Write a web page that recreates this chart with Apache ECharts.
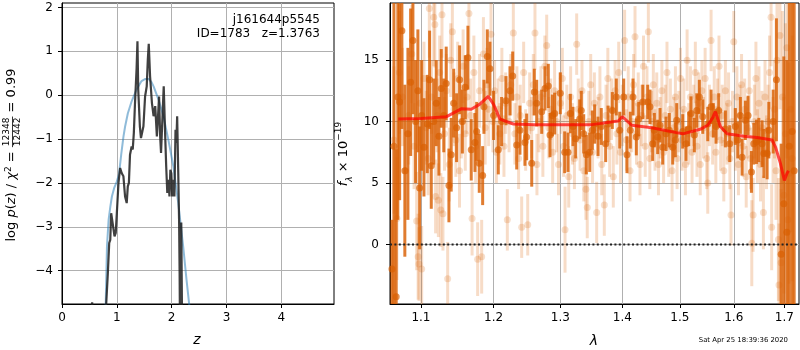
<!DOCTYPE html>
<html><head><meta charset="utf-8">
<script src="https://cdn.jsdelivr.net/npm/echarts@6/dist/echarts.min.js"></script>
<style>html,body{margin:0;padding:0;background:#fff}#c{width:800px;height:350px}</style>
</head><body><div id="c"></div>
<script>
// ---------------- data ----------------
const zTicks = [0, 1, 2, 3, 4];
const logpTicks = [-4, -3, -2, -1, 0, 1, 2];
const lamTicks = [1.1, 1.2, 1.3, 1.4, 1.5, 1.6, 1.7];
const fluxTicks = [0, 5, 10, 15];
const zRange = [0, 4.96];
const logpRange = [-4.76, 2.1];
const lamRange = [1.06, 1.73];
const fluxRange = [-4.85, 19.65];

const titleLines = ['j161644p5545', 'ID=1783   z=1.3763'];
const stamp = 'Sat Apr 25 18:39:36 2020';

// log p(z): [z, log p]
const pzPts = [[0.45,-6],[0.55,-4.72],[0.6,-6],[0.78,-6],[0.80,-4.9],[0.836,-4.06],[0.861,-3.37],[0.88,-3.3],[0.897,-2.69],
[0.92,-2.73],[0.958,-3.22],[0.98,-3.14],[1.0,-2.69],[1.03,-2.0],[1.06,-1.66],[1.09,-1.78],[1.12,-1.85],[1.15,-2.31],
[1.18,-2.46],[1.2,-2.08],[1.22,-2.0],[1.24,-1.36],[1.27,-1.17],[1.29,-1.24],[1.31,-0.86],[1.33,-0.22],[1.36,0.6],
[1.376,1.23],[1.39,0.13],[1.42,-0.71],[1.44,-0.98],[1.47,-0.94],[1.485,-0.71],[1.515,-0.03],[1.545,0.2],[1.565,0.81],
[1.582,1.17],[1.606,0.43],[1.64,-0.18],[1.67,-0.48],[1.70,-0.25],[1.73,-0.94],[1.745,-0.63],[1.77,-0.03],[1.79,-0.94],
[1.806,-1.32],[1.83,-0.56],[1.855,0.2],[1.88,-0.86],[1.9,-1.62],[1.92,-2.23],[1.94,-1.93],[1.96,-2.31],[1.976,-1.7],
[1.994,-1.78],[2.01,-2.31],[2.03,-1.93],[2.05,-2.31],[2.07,-0.79],[2.085,-1.09],[2.10,-0.48],[2.12,-1.78],[2.135,-2.84],
[2.145,-4.06],[2.155,-6],[2.17,-6],[2.175,-2.9],[2.185,-2.9],[2.195,-6],[2.25,-6]];

// smooth fit: [z, log p]
const pzFitPts = [[0.79,-5.2],[0.80,-4.6],[0.82,-3.45],[0.85,-2.84],[0.88,-2.55],[0.91,-2.31],[0.95,-2.12],[1.0,-1.97],
[1.04,-1.8],[1.08,-1.35],[1.12,-0.95],[1.15,-0.72],[1.2,-0.42],[1.27,-0.14],[1.36,0.13],[1.45,0.32],[1.52,0.37],
[1.58,0.37],[1.63,0.3],[1.67,0.2],[1.76,-0.1],[1.85,-0.48],[1.94,-1.02],[2.03,-1.62],[2.12,-2.46],[2.21,-3.45],
[2.27,-4.2],[2.33,-4.89],[2.36,-5.2]];

// faint spectrum: [lambda, flux, err]
const lightPts = [[1.0650,8.5,6],[1.0688,2.1,5],[1.0720,14.0,5],[1.0760,12.0,4],[1.0800,6.0,4],[1.0840,10.5,4],[1.0880,15.5,4],
[1.0910,8.0,3.5],[1.0944,1.9,4],[1.0963,-1.0,3.5],[1.0975,-1.6,3],[1.0990,11.5,3.5],[1.1010,-2.0,3.5],[1.1040,13.5,3],
[1.1070,9.5,3],[1.1095,7.0,3],[1.1111,19.2,4],[1.1140,12.0,3],[1.1170,18.5,4],[1.1185,17.9,3.5],[1.1195,3.9,3],
[1.1215,10.5,3],[1.1232,3.6,3],[1.1250,14.0,3],[1.1265,2.8,3],[1.1281,18.7,3.5],[1.1294,2.5,3],[1.1315,9.0,3],
[1.1340,12.5,3],[1.1358,-2.8,3],[1.1380,6.5,3],[1.1400,15.0,3],[1.1422,17.3,3],[1.1445,11.0,3],[1.1470,8.5,3],
[1.1495,13.5,3],[1.1520,6.0,3],[1.1545,10.0,3],[1.1570,14.5,3],[1.1600,9.0,3],[1.1625,12.0,3],[1.1651,18.8,3.5],
[1.1675,10.5,3],[1.1695,2.1,3],[1.1720,14.0,3],[1.1745,8.0,3],[1.1773,-1.2,3],[1.1800,12.5,3],[1.1830,-1.0,3],
[1.1855,15.5,3],[1.1880,9.5,3],[1.1905,13.0,3],[1.1930,11.0,3],[1.1963,17.1,3],[1.1990,10.0,2.5],[1.2015,12.5,2.5],
[1.2040,7.5,2.5],[1.2065,11.0,2.5],[1.2090,9.0,2.5],[1.2120,13.5,2.5],[1.2150,8.0,2.5],[1.2175,11.5,2.5],[1.2199,2.0,2.5],
[1.2225,10.0,2.5],[1.2250,13.0,2.5],[1.2287,17.2,3],[1.2310,9.0,2.5],[1.2340,12.0,2.5],[1.2365,7.0,2.5],[1.2390,10.5,2.5],
[1.2411,1.4,2.5],[1.2440,14.0,2.5],[1.2470,8.5,2.5],[1.2501,1.6,2.5],[1.2530,11.5,2.5],[1.2560,9.5,2.5],[1.2585,13.0,2.5],
[1.2610,17.2,3],[1.2640,6.5,2.5],[1.2670,10.0,2.5],[1.2700,12.0,2.5],[1.2730,8.0,2.5],[1.2760,14.5,2.5],[1.2788,16.2,2.5],
[1.2820,9.5,2.5],[1.2850,11.0,2.5],[1.2880,7.5,2.5],[1.2910,12.5,2.5],[1.2940,10.0,2.5],[1.2970,6.5,2.5],[1.3000,11.5,2.5],
[1.3030,13.5,2.5],[1.3050,8.0,2.5],[1.3072,1.2,3.5],[1.3100,10.5,2.5],[1.3130,5.5,2.5],[1.3160,12.0,2.5],[1.3190,9.0,2.5],
[1.3220,7.0,2.5],[1.3256,16.3,2.5],[1.3280,11.0,2.5],[1.3310,8.5,2.5],[1.3340,12.5,2.5],[1.3370,6.0,2.5],[1.3403,4.5,2.5],
[1.3425,3.0,2.5],[1.3450,10.0,2.5],[1.3480,13.0,2.5],[1.3510,7.5,2.5],[1.3540,11.5,2.5],[1.3577,2.6,2.5],[1.3600,9.5,2.5],
[1.3630,12.0,2.5],[1.3660,6.5,2.5],[1.3702,3.2,2.5],[1.3730,10.5,2.5],[1.3760,13.5,2.5],[1.3790,8.0,2.5],[1.3820,11.0,2.5],
[1.3850,5.5,2.5],[1.3880,12.5,2.5],[1.3910,9.0,2.5],[1.3940,14.0,2.5],[1.3970,7.5,2.5],[1.4000,10.5,2.5],[1.4039,16.6,2.5],
[1.4070,8.5,2.5],[1.4100,12.0,2.5],[1.4130,6.0,2.5],[1.4160,10.0,2.5],[1.4190,13.0,2.5],[1.4215,16.9,2.5],[1.4240,9.0,2.5],
[1.4270,11.5,2.5],[1.4300,6.5,2.5],[1.4330,10.5,2.5],[1.4360,14.5,2.5],[1.4390,8.0,2.5],[1.4420,12.0,2.5],[1.4444,17.3,2.5],
[1.4470,7.0,2.5],[1.4500,10.0,2.5],[1.4530,13.0,2.5],[1.4560,8.5,2.5],[1.4590,11.5,2.5],[1.4620,6.5,2.5],[1.4650,9.5,2.5],
[1.4680,12.5,2.5],[1.4710,7.5,2.5],[1.4740,10.5,2.5],[1.4770,14.0,2.5],[1.4800,8.0,2.5],[1.4830,11.0,2.5],[1.4860,6.0,2.5],
[1.4890,9.5,2.5],[1.4920,12.0,2.5],[1.4950,7.0,2.5],[1.4980,10.0,2.5],[1.5010,13.5,2.5],[1.5040,8.5,2.5],[1.5070,11.0,2.5],
[1.5100,6.5,2.5],[1.5130,15.0,2.5],[1.5160,9.0,2.5],[1.5190,12.0,2.5],[1.5220,7.5,2.5],[1.5250,10.5,2.5],[1.5280,14.0,2.5],
[1.5310,8.0,2.5],[1.5340,11.5,2.5],[1.5370,6.5,2.5],[1.5400,12.5,2.5],[1.5430,9.5,2.5],[1.5460,13.5,2.5],[1.5490,7.0,2.5],
[1.5509,5.0,2.5],[1.5540,10.5,2.5],[1.5571,16.6,2.5],[1.5600,9.0,2.5],[1.5630,12.0,2.5],[1.5660,7.5,2.5],[1.5690,11.0,2.5],
[1.5720,14.5,2.5],[1.5750,8.5,2.5],[1.5780,10.5,2.5],[1.5810,6.0,2.5],[1.5840,12.5,2.5],[1.5870,9.0,2.5],[1.5900,11.5,2.5],
[1.5925,7.0,2.5],[1.5947,2.4,2.5],[1.5975,10.0,2.5],[1.6000,16.5,2.5],[1.6030,8.5,2.5],[1.6060,12.0,2.5],[1.6090,6.5,2.5],
[1.6120,10.5,2.5],[1.6150,13.0,2.5],[1.6180,8.0,2.5],[1.6210,11.0,2.5],[1.6240,5.5,2.5],[1.6270,9.5,2.5],[1.6300,12.5,2.5],
[1.6325,7.0,2.5],[1.6349,0.1,3.5],[1.6375,2.4,3],[1.6400,10.0,3],[1.6430,13.5,3],[1.6460,8.0,3],[1.6490,11.5,3],
[1.6520,6.5,3],[1.6550,9.5,3],[1.6578,2.6,3],[1.6610,12.0,3],[1.6640,7.5,3],[1.6670,10.0,3],[1.6700,14.0,3],
[1.6731,18.5,4],[1.6743,1.4,3.5],[1.6770,8.5,3.5],[1.6800,11.0,4],[1.6830,6.0,4],[1.6850,15.0,5],[1.6878,0.4,5],
[1.6890,-3.3,5],[1.6910,17.0,6],[1.6934,-1.5,6],[1.6960,12.0,7],[1.6990,4.0,8],[1.7020,9.0,9],[1.7050,16.0,9],
[1.7070,2.0,9],[1.7096,5.8,9],[1.7130,11.0,10],[1.7160,7.0,10]];

// strong spectrum: [lambda, flux, err]
const darkPts = [[1.0625,-2.0,4.0],[1.0650,8.0,14],[1.0679,-4.25,12],[1.0700,12.0,10],[1.0723,11.6,8],[1.0752,17.4,8],
[1.0790,6.0,7],[1.0830,9.0,7],[1.0865,13.2,6],[1.0895,16.6,6],[1.0930,10.0,5],[1.0960,12.5,5],[1.0983,4.6,5],
[1.1010,10.5,4.5],[1.1040,7.9,4],[1.1084,9.8,4],[1.1115,13.4,4],[1.1137,6.4,3.5],[1.1170,10.0,3.5],[1.1204,11.5,3.5],
[1.1240,8.8,3.2],[1.1271,12.7,3.2],[1.1305,10.5,3],[1.1338,13.1,3],[1.1375,4.8,3],[1.1406,7.3,3],[1.1440,11.5,2.8],
[1.1480,9.5,2.8],[1.1522,13.4,2.8],[1.1560,10.0,2.6],[1.1600,12.8,2.6],[1.1637,15.2,2.6],[1.1683,7.7,2.5],
[1.1735,8.3,2.4],[1.1760,9.2,2.4],[1.1796,6.6,2.4],[1.1844,5.6,2.4],[1.1862,11.2,2.2],[1.1910,15.3,2.2],[1.1948,14.3,2.2],
[1.2000,10.5,2.0],[1.2068,7.7,2.0],[1.2116,10.0,2.0],[1.2180,11.7,2.0],[1.2238,12.5,2.0],[1.2278,13.7,2.0],[1.2337,8.1,2.0],
[1.2385,9.3,2.0],[1.2459,8.3,1.9],[1.2485,8.75,1.9],[1.2561,6.6,1.9],[1.2600,12.4,1.9],[1.2636,11.5,1.9],[1.2712,10.8,1.8],
[1.2762,12.7,1.8],[1.2813,12.9,1.8],[1.2839,8.9,1.8],[1.2875,10.5,1.7],[1.2911,10.65,1.7],[1.2998,12.3,1.7],[1.3067,7.5,1.7],
[1.3119,7.5,1.6],[1.3155,10.65,1.6],[1.3197,9.6,1.6],[1.3240,8.6,1.6],[1.3304,10.2,1.6],[1.3329,10.9,1.6],[1.3368,9.0,1.6],
[1.3410,7.3,1.6],[1.3464,7.5,1.6],[1.3506,9.3,1.6],[1.3545,9.8,1.6],[1.3599,8.8,1.6],[1.3652,9.6,1.5],[1.3724,8.2,1.5],
[1.3763,9.8,1.5],[1.3834,10.9,1.5],[1.3900,12.0,1.5],[1.3957,9.3,1.5],[1.4024,12.0,1.5],[1.4079,7.3,1.5],[1.4135,9.3,1.5],
[1.4181,12.0,1.5],[1.4237,8.75,1.5],[1.4279,10.2,1.4],[1.4348,11.6,1.4],[1.4433,11.6,1.4],[1.4473,11.2,1.4],[1.4519,8.2,1.4],
[1.4548,9.3,1.4],[1.4606,8.75,1.4],[1.4647,9.7,1.4],[1.4694,7.9,1.4],[1.4753,9.0,1.4],[1.4811,9.3,1.4],[1.4872,7.9,1.4],
[1.4918,8.5,1.4],[1.4943,10.1,1.4],[1.5051,9.2,1.4],[1.5110,8.2,1.4],[1.5160,9.4,1.4],[1.5201,10.65,1.4],[1.5262,8.9,1.4],
[1.5306,10.9,1.4],[1.5354,12.0,1.4],[1.5416,10.4,1.4],[1.5509,9.8,1.4],[1.5571,11.2,1.4],[1.5613,10.1,1.4],[1.5664,9.6,1.4],
[1.5714,10.9,1.4],[1.5840,9.4,1.5],[1.5923,8.2,1.5],[1.6030,9.6,1.5],[1.6077,8.5,1.5],[1.6127,10.5,1.5],[1.6160,7.1,1.5],
[1.6224,10.1,1.6],[1.6276,10.5,1.6],[1.6342,5.9,1.7],[1.6388,8.2,1.7],[1.6440,8.35,1.8],[1.6487,8.5,1.8],[1.6552,8.2,1.9],
[1.6586,7.4,2.0],[1.6652,7.4,2.1],[1.6686,9.3,2.3],[1.6773,10.0,2.6],[1.6838,13.4,5],[1.6934,-0.8,9],[1.6988,3.3,12],
[1.7050,1.0,14],[1.7100,8.0,15],[1.7157,9.2,15],[1.7200,6.0,15]];

// model: [lambda, flux]
const modelPts = [[1.0706,10.2],[1.1000,10.25],[1.1343,10.4],[1.1420,10.65],[1.1550,11.05],[1.1683,11.0],[1.1800,11.4],
[1.1924,12.05],[1.2000,11.4],[1.2092,10.2],[1.2287,9.8],[1.2600,9.75],[1.3000,9.75],[1.3500,9.75],[1.3934,10.05],
[1.4000,10.4],[1.4159,9.7],[1.4503,9.5],[1.4937,9.1],[1.5051,9.0],[1.5385,9.4],[1.5509,9.7],[1.5600,10.3],[1.5651,10.8],
[1.5745,9.6],[1.5872,9.0],[1.6193,8.8],[1.6453,8.7],[1.6751,8.5],[1.6823,7.9],[1.6919,6.6],[1.6999,5.2],[1.7054,5.8],[1.7084,6.0]];

// ---------------- chart ----------------
const FONT = '"DejaVu Sans", sans-serif';
const ln = Math.log;
const minus = v => (v < 0 ? '\u2212' : '') + Math.abs(v);
const cv = document.createElement('canvas').getContext('2d');
function tw(t, size, style) { cv.font = (style ? style + ' ' : '') + size + 'px ' + FONT; return cv.measureText(t).width; }

function axisCommon(ticks, labelMargin, fmt) {
  return {
    axisLine: { show: true, onZero: false, lineStyle: { color: '#000', width: 1 } },
    axisTick: { show: true, inside: false, length: 4, customValues: ticks, lineStyle: { color: '#000', width: 1 } },
    axisLabel: { customValues: ticks, color: '#000', fontSize: 12, fontFamily: FONT, margin: labelMargin, formatter: fmt },
    splitLine: { show: true, lineStyle: { color: '#b0b0b0', width: 1 } }
  };
}

function errSeries(pts, color, width, z) {
  return {
    type: 'custom', xAxisIndex: 1, yAxisIndex: 1, z: z, silent: true,
    data: pts.map(p => [ln(p[0]), p[1] - p[2], p[1] + p[2]]),
    encode: { x: 0, y: [1, 2] },
    renderItem: (params, api) => {
      const x = api.value(0);
      const lo = Math.max(api.value(1), fluxRange[0]);
      const hi = Math.min(api.value(2), fluxRange[1]);
      const a = api.coord([x, lo]), b = api.coord([x, hi]);
      return { type: 'line', shape: { x1: a[0], y1: a[1], x2: b[0], y2: b[1] }, style: { stroke: color, lineWidth: width } };
    }
  };
}

const chart = echarts.init(document.getElementById('c'), null, { renderer: 'canvas' });

// left y-label (rotated, with fraction)
const fs = 13, ffs = 9;
const richA = {
  a: { fontSize: fs, fontFamily: FONT, color: '#000' },
  i: { fontSize: fs, fontFamily: FONT, fontStyle: 'italic', color: '#000' },
  s: { fontSize: 9, fontFamily: FONT, color: '#000', verticalAlign: 'top', lineHeight: 16 }
};
const wA = tw('log ', fs) + tw('p', fs, 'italic') + tw('(', fs) + tw('z', fs, 'italic') + tw(') / ', fs) +
  tw('\u03c7', fs, 'italic') + tw('2', 9) + tw(' = ', fs);
const wF = Math.max(tw('12348', ffs), tw('12442', ffs)) + 2;
const wC = tw(' = 0.99', fs);
const W = wA + wF + wC;
const x0 = -W / 2;

chart.setOption({
  animation: false,
  backgroundColor: '#fff',
  grid: [
    { left: 62, top: 3, width: 272, height: 301, show: true, borderColor: '#000', borderWidth: 1, containLabel: false },
    { left: 390, top: 3, width: 409, height: 301, show: true, borderColor: '#000', borderWidth: 1, containLabel: false }
  ],
  xAxis: [
    Object.assign({ type: 'value', gridIndex: 0, min: zRange[0], max: zRange[1] }, axisCommon(zTicks, 8, v => minus(v))),
    Object.assign({ type: 'value', gridIndex: 1, min: ln(lamRange[0]), max: ln(lamRange[1]) },
      axisCommon(lamTicks.map(ln), 8, v => Math.exp(v).toFixed(1)))
  ],
  yAxis: [
    Object.assign({ type: 'value', gridIndex: 0, min: logpRange[0], max: logpRange[1] }, axisCommon(logpTicks, 9, v => minus(Math.round(v)))),
    Object.assign({ type: 'value', gridIndex: 1, min: fluxRange[0], max: fluxRange[1] }, axisCommon(fluxTicks, 11, v => minus(Math.round(v))))
  ],
  series: [
    { type: 'line', xAxisIndex: 0, yAxisIndex: 0, data: pzFitPts, showSymbol: false, z: 2, clip: true,
      lineStyle: { color: 'rgba(31,119,180,0.5)', width: 2 } },
    { type: 'line', xAxisIndex: 0, yAxisIndex: 0, data: pzPts, showSymbol: false, z: 3, clip: true,
      lineStyle: { color: 'rgba(30,30,30,0.85)', width: 2.2 } },
    errSeries(lightPts, 'rgba(217,95,2,0.22)', 3, 1),
    { type: 'scatter', xAxisIndex: 1, yAxisIndex: 1, z: 2, symbolSize: 7, silent: true,
      data: lightPts.map(p => [ln(p[0]), p[1]]), itemStyle: { color: 'rgba(217,95,2,0.25)' } },
    errSeries(darkPts, 'rgba(217,95,2,0.82)', 3, 3),
    { type: 'scatter', xAxisIndex: 1, yAxisIndex: 1, z: 4, symbolSize: 7, silent: true,
      data: darkPts.map(p => [ln(p[0]), p[1]]), itemStyle: { color: 'rgba(217,95,2,0.85)' } },
    { type: 'line', xAxisIndex: 1, yAxisIndex: 1, z: 5, showSymbol: false, clip: true,
      data: modelPts.map(p => [ln(p[0]), p[1]]), lineStyle: { color: 'rgba(255,0,0,0.7)', width: 3 } },
    { type: 'line', xAxisIndex: 1, yAxisIndex: 1, z: 6, showSymbol: false,
      data: [[ln(lamRange[0]), 0], [ln(lamRange[1]), 0]], lineStyle: { color: '#222', width: 2, type: [2, 2.4] } }
  ],
  graphic: [
    { type: 'text', x: 320, y: 20, z: 10, style: { text: titleLines[0], font: '12px ' + FONT, fill: '#000', align: 'right', verticalAlign: 'middle' } },
    { type: 'text', x: 320, y: 34, z: 10, style: { text: titleLines[1], font: '12px ' + FONT, fill: '#000', align: 'right', verticalAlign: 'middle' } },
    { type: 'text', x: 197, y: 340, style: { text: 'z', font: 'italic 14px ' + FONT, fill: '#000', align: 'center', verticalAlign: 'middle' } },
    { type: 'text', x: 594, y: 341, style: { text: '\u03bb', font: 'italic 14px ' + FONT, fill: '#000', align: 'center', verticalAlign: 'middle' } },
    { type: 'text', x: 788, y: 340, style: { text: stamp, font: '6.9px ' + FONT, fill: '#000', align: 'right', verticalAlign: 'middle' } },
    { type: 'text', x: 344, y: 154, rotation: Math.PI / 2,
      style: { text: '{i|f}{sub|\u03bb}{a| \u00d7 10}{sup|\u221219}', align: 'center', verticalAlign: 'middle',
        rich: {
          a: { fontSize: 13, fontFamily: FONT, color: '#000', lineHeight: 20 },
          i: { fontSize: 13, fontFamily: FONT, fontStyle: 'italic', color: '#000', lineHeight: 20 },
          sub: { fontSize: 9, fontFamily: FONT, fontStyle: 'italic', color: '#000', verticalAlign: 'bottom', lineHeight: 20 },
          sup: { fontSize: 9, fontFamily: FONT, color: '#000', verticalAlign: 'top', lineHeight: 20 }
        } } },
    { type: 'group', x: 12, y: 155, rotation: Math.PI / 2, children: [
      { type: 'text', x: x0, y: 0, style: { text: '{a|log }{i|p}{a|(}{i|z}{a|) / }{i|\u03c7}{s|2}{a| = }', rich: richA, align: 'left', verticalAlign: 'middle' } },
      { type: 'text', x: x0 + wA + wF / 2, y: -5, style: { text: '12348', font: ffs + 'px ' + FONT, fill: '#000', align: 'center', verticalAlign: 'middle' } },
      { type: 'line', shape: { x1: x0 + wA, y1: 0.5, x2: x0 + wA + wF, y2: 0.5 }, style: { stroke: '#000', lineWidth: 0.8 } },
      { type: 'text', x: x0 + wA + wF / 2, y: 6, style: { text: '12442', font: ffs + 'px ' + FONT, fill: '#000', align: 'center', verticalAlign: 'middle' } },
      { type: 'text', x: x0 + wA + wF, y: 0, style: { text: ' = 0.99', font: fs + 'px ' + FONT, fill: '#000', align: 'left', verticalAlign: 'middle' } }
    ] }
  ]
});
</script></body></html>
